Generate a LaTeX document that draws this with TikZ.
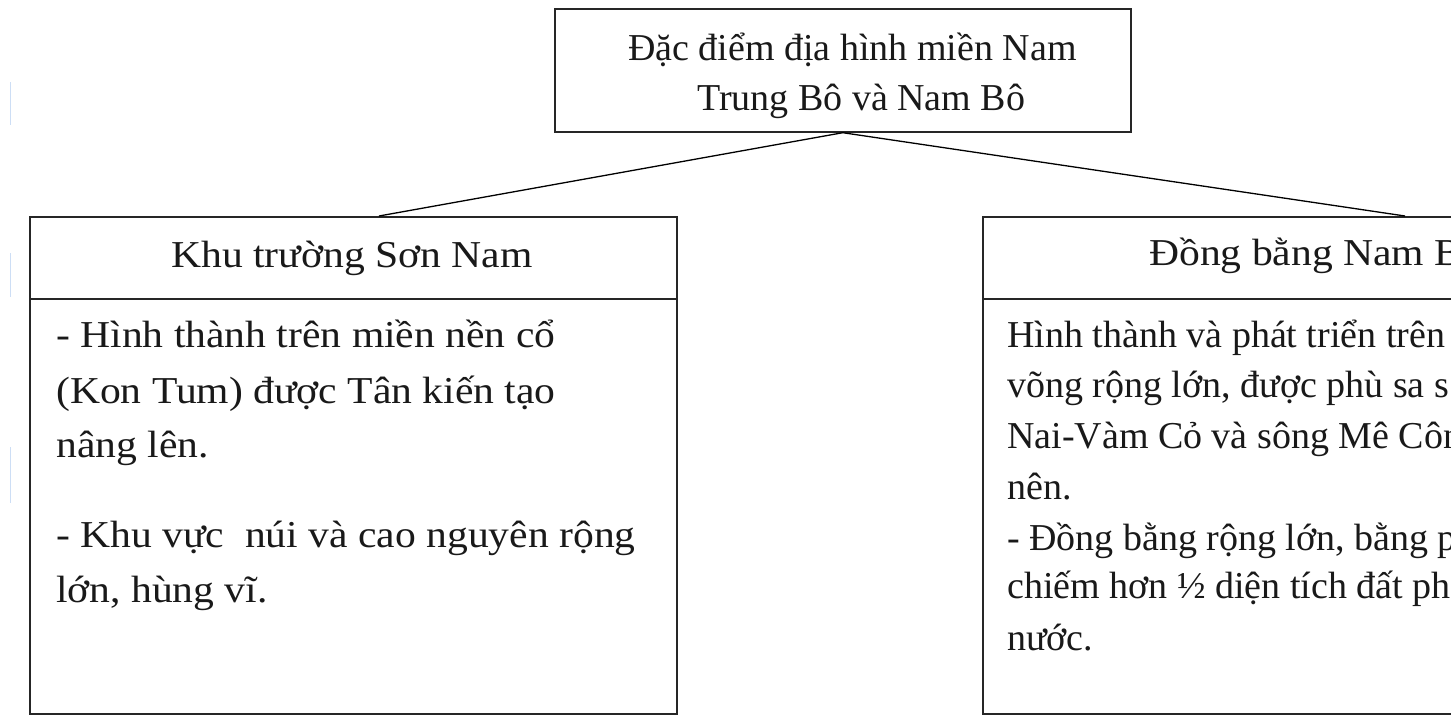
\documentclass[tikz,border=0pt]{standalone}
\usepackage{fontspec}
\setmainfont{Liberation Serif}
\newfontfamily\widefont{Liberation Serif}[FakeStretch=1.095]
\begin{document}
\begin{tikzpicture}[x=1pt,y=-1pt,
  box/.style={draw=black!85, line width=1.7pt, rectangle, inner sep=0pt, anchor=north west},
  conn/.style={draw=black, line width=1.3pt},
  txt/.style={anchor=base west, inner sep=0pt, font=\fontsize{38}{44}\selectfont, text=black!90},
  wtxt/.style={anchor=base west, inner sep=0pt, font=\widefont\fontsize{38}{44}\selectfont, text=black!90},
  ctxt/.style={anchor=base, inner sep=0pt, font=\widefont\fontsize{38}{44}\selectfont, text=black!90},
  edgemark/.style={draw={rgb,255:red,205;green,222;blue,245}, line width=1pt}]
\useasboundingbox (0,0) rectangle (1451,715);
\clip (0,0) rectangle (1451,715);
\fill[white] (0,0) rectangle (1451,715);
% faint marks at left edge
\draw[edgemark] (10,82) -- (10,125);
\draw[edgemark] (10,253) -- (10,297);
\draw[edgemark] (10,447) -- (10,503);
% top box
\node[box, minimum width=576pt, minimum height=123pt] (top) at (554,8) {};
\node[txt] (t1) at (628,60) {Đặc điểm địa hình miền Nam};
\node[txt] (t2) at (697,110) {Trung Bô và Nam Bô};
% left box
\node[box, minimum width=647pt, minimum height=82pt] (lhead) at (29,216) {};
\node[box, minimum width=647pt, minimum height=415pt] (lbody) at (29,298) {};
\node[ctxt] (lh) at (352,267) {Khu trường Sơn Nam};
\node[wtxt] (l1) at (56,347) {- Hình thành trên miền nền cổ};
\node[wtxt] (l2) at (56,403) {(Kon Tum) được Tân kiến tạo};
\node[wtxt] (l3) at (56,457) {nâng lên.};
\node[wtxt] (l4) at (56,547) {- Khu vực\ \ núi và cao nguyên rộng};
\node[wtxt] (l5) at (56,602) {lớn, hùng vĩ.};
% right box
\node[box, minimum width=647pt, minimum height=82pt] (rhead) at (982,216) {};
\node[box, minimum width=647pt, minimum height=415pt] (rbody) at (982,298) {};
\node[wtxt] (rh) at (1149,265) {Đồng bằng Nam B};
\node[txt] (r1) at (1007,347) {Hình thành và phát triển trên};
\node[txt] (r2) at (1007,397) {võng rộng lớn, được phù sa s};
\node[txt] (r3) at (1007,448) {Nai-Vàm Cỏ và sông Mê Côn};
\node[txt] (r4) at (1007,499) {nên.};
\node[txt] (r5) at (1007,550) {- Đồng bằng rộng lớn, bằng p};
\node[txt] (r6) at (1007,598) {chiếm hơn ½ diện tích đất ph};
\node[txt] (r7) at (1007,650) {nước.};
% connectors
\coordinate (lend) at (379,216);
\coordinate (rend) at (1405,216);
\draw[conn] (top.south) -- (lend);
\draw[conn] (top.south) -- (rend);
\end{tikzpicture}
\end{document}
